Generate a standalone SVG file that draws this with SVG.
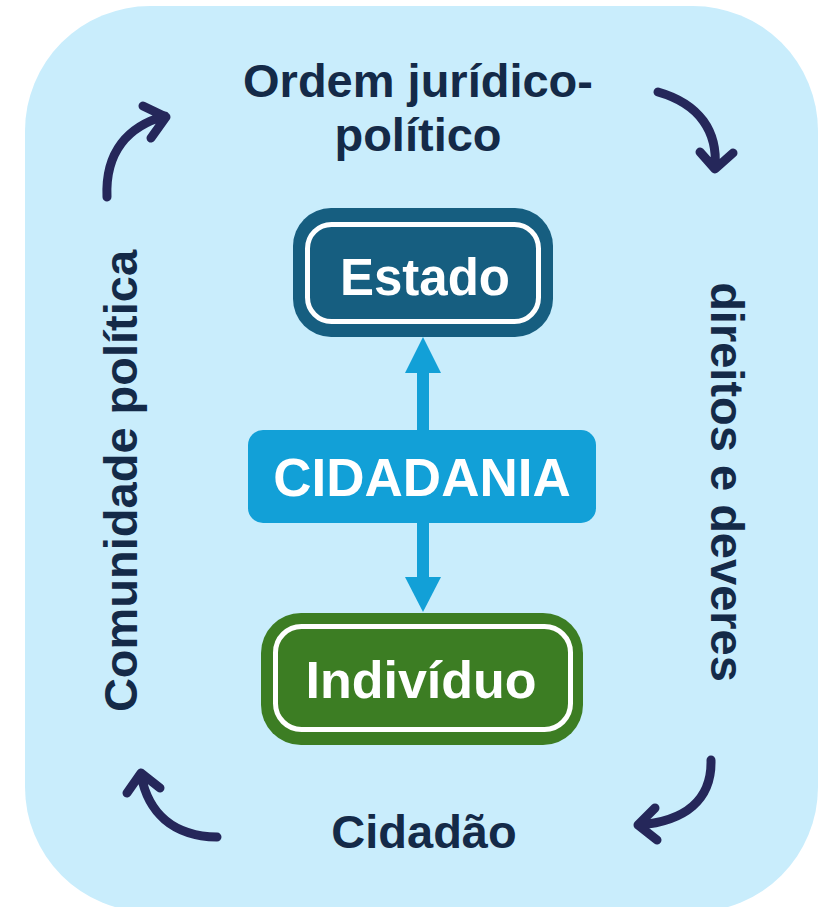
<svg xmlns="http://www.w3.org/2000/svg" width="823" height="907" viewBox="0 0 823 907">
<style>
.lbl{font-family:"Liberation Sans",Arial,sans-serif;font-weight:bold;font-size:47px;fill:#142A48;text-anchor:middle}
.wt{font-family:"Liberation Sans",Arial,sans-serif;font-weight:bold;fill:#FFFFFF;text-anchor:middle}
.cyc{fill:none;stroke:#25275A;stroke-width:9;stroke-linecap:round;stroke-linejoin:round}
.inner{fill:none;stroke:#FFFFFF;stroke-width:5}
</style>
<rect x="0" y="0" width="823" height="907" fill="#FFFFFF"/>
<rect id="background" x="25" y="6" width="793" height="906" rx="125" ry="125" fill="#C9EDFC"/>
<g id="labels">
<text class="lbl" x="418" y="97">Ordem jurídico-</text>
<text class="lbl" x="418" y="151">político</text>
<text class="lbl" x="424" y="848">Cidadão</text>
<text class="lbl" transform="translate(137,481) rotate(-90)" x="0" y="0" font-size="48">Comunidade política</text>
<text class="lbl" transform="translate(711,482) rotate(90)" x="0" y="0">direitos e deveres</text>
</g>
<g id="cycle-arrows">
<path class="cyc" d="M107,197 C105,152 128,126 165,116 M143,106 L166,117 L151,138"/>
<path class="cyc" d="M658,92 C700,104 718,132 715,168 M700,152 L715,169 L733,153"/>
<path class="cyc" d="M711,760 C712,800 685,821 639,825 M655,808 L638,825 L657,840"/>
<path class="cyc" d="M217,837 C172,836 148,812 141,775 M127,793 L141,773 L160,788"/>
</g>
<g id="connectors">
<rect x="417" y="370" width="12" height="62" fill="#12A0D7"/>
<polygon points="423,337 405,373 441,373" fill="#12A0D7"/>
<rect x="417" y="521" width="12" height="58" fill="#12A0D7"/>
<polygon points="423,612 405,577 441,577" fill="#12A0D7"/>
</g>
<g id="estado">
<rect x="293" y="208" width="260" height="129" rx="38" fill="#165E80"/>
<rect class="inner" x="307.5" y="224.5" width="231" height="97" rx="24"/>
<text class="wt" x="425" y="295" font-size="51">Estado</text>
</g>
<g id="cidadania">
<rect x="248" y="430" width="348" height="93" rx="15" fill="#12A0D7"/>
<text class="wt" x="422" y="496" font-size="53">CIDADANIA</text>
</g>
<g id="individuo">
<rect x="261" y="613" width="322" height="132" rx="40" fill="#3C7D23"/>
<rect class="inner" x="275.5" y="626.5" width="295" height="103" rx="26"/>
<text class="wt" x="421" y="698" font-size="52">Indivíduo</text>
</g>
</svg>
